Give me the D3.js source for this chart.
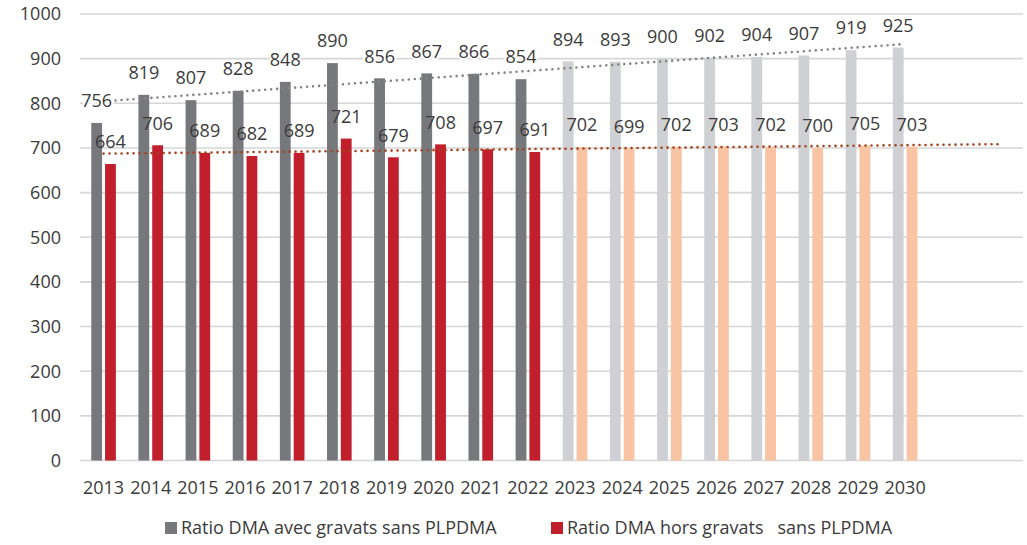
<!DOCTYPE html>
<html><head><meta charset="utf-8">
<script src="https://cdn.jsdelivr.net/npm/d3@7"></script>
<style>body{margin:0;background:#fff}svg{display:block}</style>
</head><body>
<svg id="c" width="1027" height="545"></svg>
<script>
const years = ["2013","2014","2015","2016","2017","2018","2019","2020","2021","2022","2023","2024","2025","2026","2027","2028","2029","2030"];
const avecGravats = [756,819,807,828,848,890,856,867,866,854,894,893,900,902,904,907,919,925];
const horsGravats = [664,706,689,682,689,721,679,708,697,691,702,699,702,703,702,700,705,703];
const lastActualYear = "2022";
const yTicks = [0,100,200,300,400,500,600,700,800,900,1000];
const legendLabels = ["Ratio DMA avec gravats sans PLPDMA","Ratio DMA hors gravats   sans PLPDMA"];

const svg = d3.select("#c");
const font = "'Open Sans', 'Liberation Sans', sans-serif";
const textColor = "#3b3b3b";
const fs = 18;
const slots = years.concat(["_a","_b"]);
const x = d3.scaleBand().domain(slots).range([80, 1023]).padding(0);
const y = d3.scaleLinear().domain([0,1000]).range([460.5, 14]);
const bw = 10.8, gap = 3;
const isActual = d => +d <= +lastActualYear;
const col = {grayA:"#77787b", redA:"#c01f2b", grayF:"#cfd0d3", redF:"#f9c4a3"};

// gridlines
svg.append("g").selectAll("line").data(yTicks).join("line")
  .attr("x1",80).attr("x2",1023)
  .attr("y1",d=>y(d)).attr("y2",d=>y(d))
  .attr("stroke","#d6d6d6").attr("stroke-width",1.6);

// y labels
svg.append("g").selectAll("text").data(yTicks).join("text")
  .attr("x",61).attr("y",d=>y(d)).attr("dy","0.35em")
  .attr("text-anchor","end").attr("font-family",font).attr("font-size",fs)
  .attr("fill",textColor).text(d=>d);

const cx = d => x(d) + x.bandwidth()/2;

// bars
const g = svg.append("g");
g.selectAll("rect.a").data(years).join("rect").attr("class","a")
  .attr("x",d=>cx(d)-gap/2-bw).attr("width",bw)
  .attr("y",(d,i)=>y(avecGravats[i])).attr("height",(d,i)=>y(0)-y(avecGravats[i]))
  .attr("fill",d=>isActual(d)?col.grayA:col.grayF);
g.selectAll("rect.h").data(years).join("rect").attr("class","h")
  .attr("x",d=>cx(d)+gap/2).attr("width",bw)
  .attr("y",(d,i)=>y(horsGravats[i])).attr("height",(d,i)=>y(0)-y(horsGravats[i]))
  .attr("fill",d=>isActual(d)?col.redA:col.redF);

// linear trendlines (least squares on the series)
function fit(vals){
  const n=vals.length, mx=(n-1)/2, my=d3.mean(vals);
  let sxy=0,sxx=0; vals.forEach((v,i)=>{sxy+=(i-mx)*(v-my);sxx+=(i-mx)*(i-mx);});
  const b=sxy/sxx; return i=>my+b*(i-mx);
}
const step = x.step(), x0 = cx(years[0]);
const fA = fit(avecGravats), fH = fit(horsGravats);
function trend(f, i1, color){
  svg.append("line").attr("x1",x0).attr("y1",y(f(0)))
    .attr("x2",x0+i1*step).attr("y2",y(f(i1)))
    .attr("stroke",color).attr("stroke-width",2.6)
    .attr("stroke-linecap","round").attr("stroke-dasharray","0 6");
}
trend(fH, years.length+1, "#a4421f");
trend(fA, years.length-1, "#858585");

// data labels
const lab = svg.append("g").attr("font-family",font).attr("font-size",fs).attr("fill",textColor).attr("text-anchor","middle");
lab.selectAll("text.a").data(years).join("text").attr("class","a")
  .attr("x",d=>cx(d)-gap/2-bw/2).attr("y",(d,i)=>y(avecGravats[i])-22).attr("dy","0.35em")
  .attr("stroke","#fff").attr("stroke-width",4).attr("paint-order","stroke")
  .text((d,i)=>avecGravats[i]);
lab.selectAll("text.h").data(years).join("text").attr("class","h")
  .attr("x",d=>cx(d)+gap/2+bw/2).attr("y",(d,i)=>y(horsGravats[i])-22).attr("dy","0.35em")
  .text((d,i)=>horsGravats[i]);

// x labels
svg.append("g").selectAll("text").data(years).join("text")
  .attr("x",d=>cx(d)).attr("y",488).attr("dy","0.35em")
  .attr("text-anchor","middle").attr("font-family",font).attr("font-size",fs)
  .attr("fill",textColor).text(d=>d);

// legend
const leg = svg.append("g").attr("font-family",font).attr("font-size",fs).attr("fill",textColor);
const legX = [165, 551];
const legCol = [col.grayA, col.redA];
legendLabels.forEach((t,i)=>{
  leg.append("rect").attr("x",legX[i]).attr("y",522).attr("width",12).attr("height",12).attr("fill",legCol[i]);
  leg.append("text").attr("x",legX[i]+16).attr("y",528).attr("dy","0.35em")
    .attr("xml:space","preserve").style("white-space","pre").text(t);
});
</script>
</body></html>
